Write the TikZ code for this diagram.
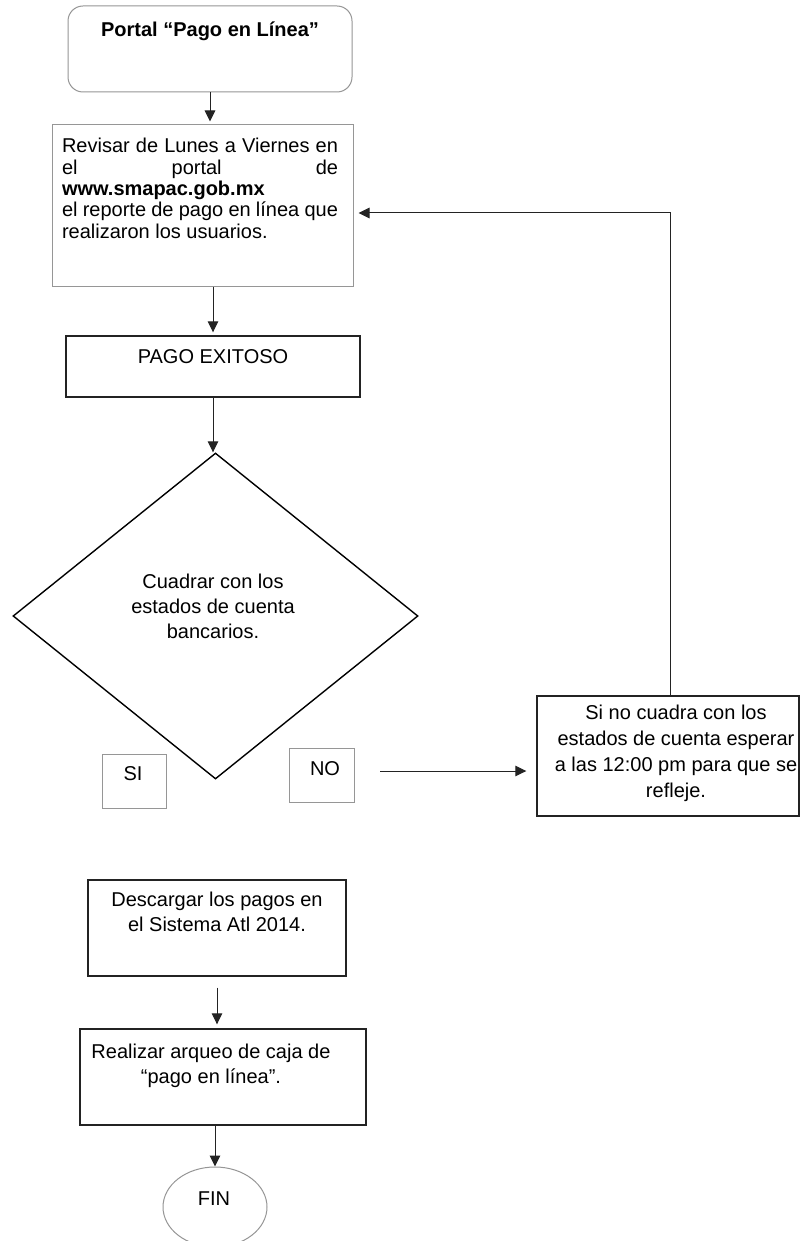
\documentclass[tikz,border=0pt]{standalone}
\usepackage{fontspec}
\setmainfont{Liberation Sans}
\usetikzlibrary{arrows.meta,shapes.geometric,calc}
\definecolor{bordergray}{RGB}{150,150,150}
\definecolor{linedark}{RGB}{35,35,35}
\begin{document}
\begin{tikzpicture}[x=1pt,y=-1pt,
  graybox/.style={draw=bordergray,line width=1pt,inner sep=0pt},
  blackbox/.style={draw=linedark,line width=1.4pt,inner sep=0pt},
  txt/.style={inner sep=0pt,anchor=base,font=\fontsize{20}{25}\selectfont},
  arr/.style={draw=linedark,line width=1pt,-{Triangle[length=11pt,width=10.5pt]}}]
\useasboundingbox (0,0) rectangle (801,1241);
\fill[white] (0,0) rectangle (801,1241);

% boxes
\node[graybox,rounded corners=15pt,minimum width=284pt,minimum height=86pt] (portal) at (210,49) {};
\node[txt,font=\bfseries\fontsize{20}{25}\selectfont] (portalT) at (210,37) {Portal “Pago en Línea”};

\node[graybox,minimum width=301pt,minimum height=161pt] (revisar) at (202.5,205.5) {};
\node[txt] (revisarT) at (200,153) {\parbox[t]{276pt}{\fontsize{20}{21.3}\selectfont\raggedright
\makebox[276pt][s]{Revisar de Lunes a Viernes en}\\
\makebox[276pt][s]{el portal de}\\
\textbf{www.smapac.gob.mx}\\
\makebox[276pt][s]{el reporte de pago en línea que}\\
realizaron los usuarios.}};

\node[blackbox,minimum width=294pt,minimum height=61pt] (pago) at (213,366.5) {};
\node[txt] (pagoT) at (213,363) {PAGO EXITOSO};

\node[draw=black,line width=1.4pt,shape=diamond,minimum width=405pt,minimum height=326pt,inner sep=0pt] (cuadrar) at (215.5,616) {};
\node[txt] (cuadrarT) at (213,588) {\parbox[t]{220pt}{\centering Cuadrar con los\\estados de cuenta\\bancarios.}};

\node[graybox,minimum width=64pt,minimum height=54pt] (si) at (134,781) {};
\node[txt] (siT) at (133,780) {SI};
\node[graybox,minimum width=65pt,minimum height=54pt] (no) at (321.5,775) {};
\node[txt] (noT) at (325,775) {NO};

\node[blackbox,minimum width=262pt,minimum height=120pt] (espera) at (668,756) {};
\node[txt] (esperaT) at (676,719) {\parbox[t]{260pt}{\fontsize{20}{26.3}\selectfont\centering Si no cuadra con los\\estados de cuenta esperar\\a las 12:00 pm para que se\\refleje.}};

\node[blackbox,minimum width=258pt,minimum height=96pt] (desc) at (217,928) {};
\node[txt] (descT) at (217,906.7) {\parbox[t]{250pt}{\centering Descargar los pagos en\\el Sistema Atl 2014.}};

\node[blackbox,minimum width=286pt,minimum height=96pt] (real) at (223,1077) {};
\node[txt] (realT) at (211,1058) {\parbox[t]{270pt}{\centering Realizar arqueo de caja de\\“pago en línea”.}};

\node[draw=bordergray,line width=1pt,ellipse,minimum width=104pt,minimum height=80pt,inner sep=0pt] (fin) at (215,1207) {};
\node[txt] (finT) at (214,1205) {FIN};

% connectors
\draw[arr,shorten >=3pt] (portal.south) -- (portal.south |- revisar.north);
\draw[arr,shorten >=3pt] (pago.north |- revisar.south) -- (pago.north);
\draw[arr] (pago.south) -- (pago.south |- cuadrar.north);
\coordinate (nostart) at (380,771);
\draw[arr,shorten >=10pt] (nostart) -- (nostart -| espera.west);
\coordinate (fbturn) at (670,213);
\draw[arr,shorten >=5pt] (espera.north -| fbturn) -- (fbturn) -- (fbturn -| revisar.east);
\draw[arr,shorten <=11pt,shorten >=4pt] (desc.south) -- (desc.south |- real.north);
\draw[arr] (fin.north |- real.south) -- (fin.north);
\end{tikzpicture}
\end{document}
